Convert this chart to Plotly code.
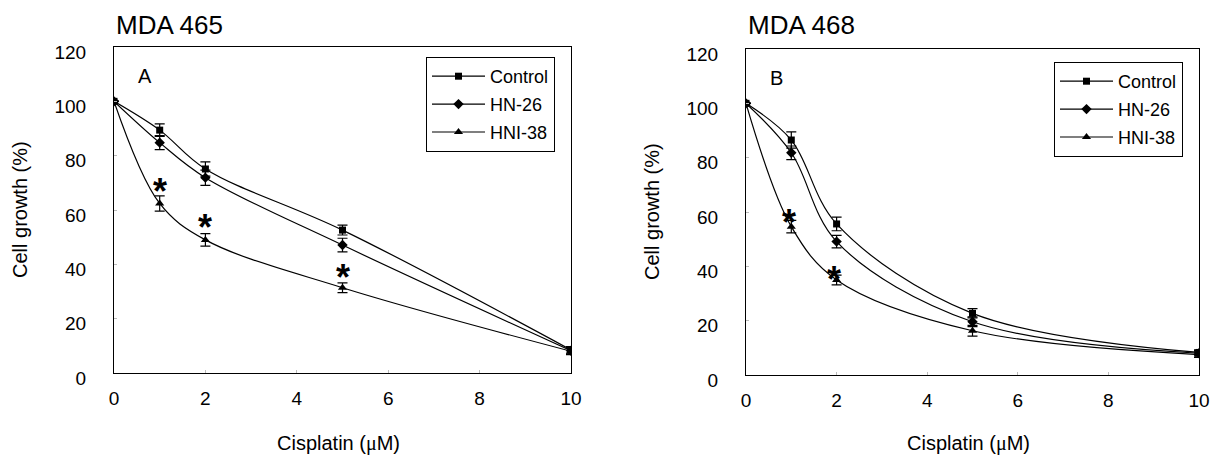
import plotly.graph_objects as go

# ---------------- data ----------------
dose = [0, 1, 2, 5, 10]
x_ticks = [0, 2, 4, 6, 8, 10]
y_ticks = [0, 20, 40, 60, 80, 100, 120]
series_names = ["Control", "HN-26", "HNI-38"]

# Panel A: MDA 465
ctrl_a = [100, 89.4, 75.1, 52.6, 8.5]
ctrl_a_err = [0, 2.3, 2.6, 1.8, 1.2]
hn26_a = [100, 84.8, 71.9, 47.1, 8.2]
hn26_a_err = [0, 2.6, 2.8, 2.5, 1.2]
hni38_a = [100, 62.4, 49.0, 31.4, 8.0]
hni38_a_err = [0, 2.8, 2.3, 1.8, 1.2]
star_a_x = [1, 2, 5]
star_a_y = [70.0, 56.7, 38.6]

# Panel B: MDA 468
ctrl_b = [100, 86.5, 55.6, 22.7, 8.3]
ctrl_b_err = [0, 3.0, 2.5, 1.7, 1.0]
hn26_b = [100, 81.8, 49.1, 19.6, 8.0]
hn26_b_err = [0, 2.5, 2.3, 1.8, 1.0]
hni38_b = [100, 54.6, 35.0, 16.3, 7.5]
hni38_b_err = [0, 2.3, 1.8, 2.0, 1.0]
star_b_x = [0.94, 1.94]
star_b_y = [59.5, 38.6]

panel_titles = ["MDA 465", "MDA 468"]
panel_letters = ["A", "B"]
x_title = "Cisplatin (<span style='font-family:Liberation Serif'>μ</span>M)"
y_title = "Cell growth (%)"

# ---------------- style / layout helpers ----------------
FONT = "Liberation Sans, Arial, sans-serif"
symbols = ["square", "diamond", "triangle-up"]
msizes = [7, 8, 8]

OFF = 8                      # page body margin of the exported html
W, H = 1220 - OFF, 461 - OFF


def px(x):
    return (x - OFF) / W


def py(y):
    return 1 - (y - OFF) / H


fig = go.Figure()

panels = [
    dict(xa="x", ya="y", legend="legend",
         ys=[ctrl_a, hn26_a, hni38_a], es=[ctrl_a_err, hn26_a_err, hni38_a_err],
         sx=star_a_x, sy=star_a_y),
    dict(xa="x2", ya="y2", legend="legend2",
         ys=[ctrl_b, hn26_b, hni38_b], es=[ctrl_b_err, hn26_b_err, hni38_b_err],
         sx=star_b_x, sy=star_b_y),
]

for p_i, p in enumerate(panels):
    for i, name in enumerate(series_names):
        fig.add_trace(go.Scatter(
            x=dose, y=p["ys"][i], name=name, mode="lines+markers",
            xaxis=p["xa"], yaxis=p["ya"], legend=p["legend"],
            legendgroup=f"{p_i}-{i}",
            line=dict(color="black", width=1.2, shape="spline", smoothing=1.0),
            marker=dict(symbol=symbols[i], size=msizes[i], color="black"),
            error_y=dict(type="data", array=p["es"][i], visible=True,
                         color="black", thickness=1.2, width=5),
        ))

xdomA = [px(114), px(571)]
xdomB = [px(746), px(1199)]
ydomA = [py(373), py(47)]
ydomB = [py(375), py(49)]

axis_common = dict(showline=True, linecolor="black", linewidth=1, mirror=True,
                   showgrid=False, zeroline=False, ticks="inside", ticklen=3,
                   tickcolor="#bbbbbb", automargin=False,
                   tickfont=dict(family=FONT, size=19, color="black"))

legend_common = dict(xanchor="left", yanchor="top",
                     bordercolor="black", borderwidth=1, bgcolor="white",
                     font=dict(family=FONT, size=18, color="black"),
                     traceorder="grouped", tracegroupgap=1.5, itemwidth=53)

fig.update_layout(
    width=W, height=H,
    margin=dict(l=0, r=0, t=0, b=0, autoexpand=False),
    paper_bgcolor="white", plot_bgcolor="white",
    showlegend=True,
    xaxis=dict(domain=xdomA, anchor="y", range=[0, 10], tickvals=x_ticks,
               ticklabelstandoff=8, **axis_common),
    yaxis=dict(domain=ydomA, anchor="x", range=[0, 120], tickvals=y_ticks,
               ticklabelstandoff=23, ticklabelshift=5, **axis_common),
    xaxis2=dict(domain=xdomB, anchor="y2", range=[0, 10], tickvals=x_ticks,
                ticklabelstandoff=8, **axis_common),
    yaxis2=dict(domain=ydomB, anchor="x2", range=[0, 120], tickvals=y_ticks,
                ticklabelstandoff=23, ticklabelshift=5, **axis_common),
    legend=dict(x=px(426), y=py(57), **legend_common),
    legend2=dict(x=px(1054), y=py(62), **legend_common),
)

annotations = []
# significance stars
for p in panels:
    for sx, sy in zip(p["sx"], p["sy"]):
        annotations.append(dict(x=sx, y=sy, xref=p["xa"], yref=p["ya"],
                                text="<b>*</b>", showarrow=False, yshift=-9,
                                font=dict(family=FONT, size=36, color="black")))

# panel titles & letters, axis titles
for k, (xd, yd) in enumerate([(xdomA, ydomA), (xdomB, ydomB)]):
    annotations.append(dict(x=xd[0], y=py(25), xref="paper", yref="paper",
                            text=panel_titles[k], showarrow=False,
                            xanchor="left", yanchor="middle",
                            font=dict(family=FONT, size=26, color="black")))
    annotations.append(dict(x=xd[0] + 31 / W, y=yd[1] - 29 / H, xref="paper", yref="paper",
                            text=panel_letters[k], showarrow=False,
                            xanchor="center", yanchor="middle",
                            font=dict(family=FONT, size=20, color="black")))
    annotations.append(dict(x=(xd[0] + xd[1]) / 2 - 4 / W, y=py(443), xref="paper", yref="paper",
                            text=x_title, showarrow=False,
                            xanchor="center", yanchor="middle",
                            font=dict(family=FONT, size=20, color="black")))
    annotations.append(dict(x=xd[0] - 94 / W, y=(yd[0] + yd[1]) / 2, xref="paper", yref="paper",
                            text=y_title, showarrow=False, textangle=-90,
                            xanchor="center", yanchor="middle",
                            font=dict(family=FONT, size=20, color="black")))

fig.update_layout(annotations=annotations)

fig.write_html("out.html")
